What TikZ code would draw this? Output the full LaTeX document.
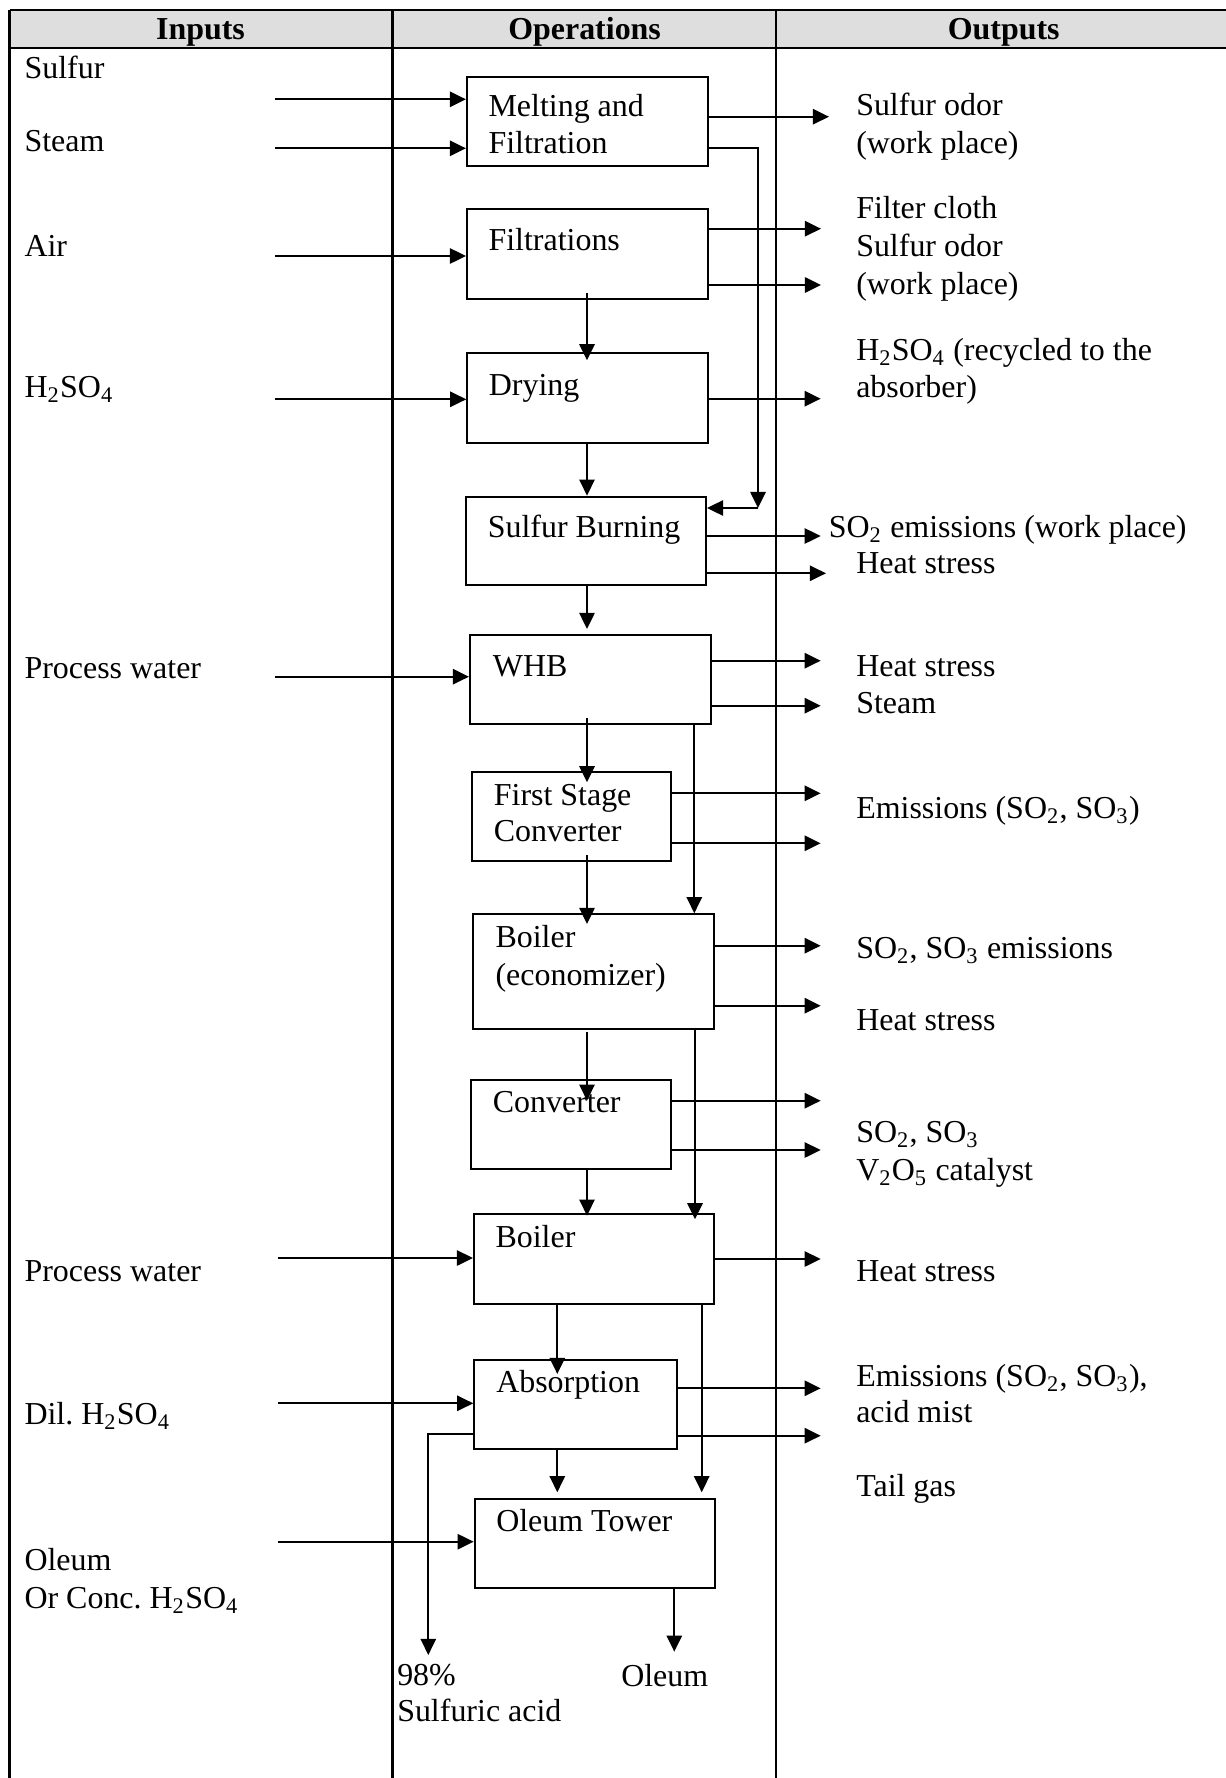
\documentclass[tikz,border=0pt]{standalone}
\usepackage{fontspec}
\setmainfont{Liberation Serif}
\usetikzlibrary{arrows.meta,fit,calc}
\begin{document}
\begin{tikzpicture}[x=0.36pt,y=-0.36pt,
  lw/.style={line width=0.75pt},
  box/.style={draw,line width=0.75pt,inner sep=0pt,fit={#1}},
  arr/.style={line width=0.75pt,-{Triangle[length=5.8pt,width=5.5pt]}},
  txt/.style={anchor=base west,inner sep=0pt,font=\fontsize{11.5}{13.7}\selectfont},
  hdr/.style={anchor=base,inner sep=0pt,font=\fontsize{11.5}{13.7}\selectfont\bfseries},
  rule/.style={line width=0.9pt}]
\useasboundingbox (0,0) rectangle (1226,1778);
% table
\fill[black!13] (9.5,10) rectangle (1226,48);
\draw[rule] (9.5,10) -- (1226,10);
\draw[rule] (9.5,48) -- (1226,48);
\draw[rule] (9.5,9.5) -- (9.5,1778);
\draw[rule] (392.5,9.5) -- (392.5,1778);
\draw[rule] (776,9.5) -- (776,1778);
\node[hdr] (h1) at (200.5,39.5) {Inputs};
\node[hdr] (h2) at (584.6,39.5) {Operations};
\node[hdr] (h3) at (1003.7,39.5) {Outputs};
% boxes
\node[box={(467,77)(708,166)}] (melt) {};
\node[box={(467,209.3)(708,299)}] (filt) {};
\node[box={(467.3,353.3)(707.7,442.7)}] (dry) {};
\node[box={(466,496.7)(706,585.3)}] (burn) {};
\node[box={(470,635)(711,724.3)}] (whb) {};
\node[box={(471.7,772.3)(671,861)}] (first) {};
\node[box={(473.3,914.3)(714,1029.3)}] (boila) {};
\node[box={(471,1080)(671,1169)}] (conv) {};
\node[box={(474,1214.3)(714,1304)}] (boilb) {};
\node[box={(474.3,1360)(677.3,1448.7)}] (absb) {};
\node[box={(474.7,1498.7)(715,1587.7)}] (oleum) {};
% box labels
\node[txt] (l1) at (488,116.7) {Melting and};
\node[txt] (l2) at (488,153.3) {Filtration};
\node[txt] (l3) at (488,250) {Filtrations};
\node[txt] (l4) at (488.3,395) {Drying};
\node[txt] (l5) at (487.3,537.3) {Sulfur Burning};
\node[txt] (l6) at (492.3,676) {WHB};
\node[txt] (l7) at (493.3,805) {First Stage};
\node[txt] (l8) at (493.3,841.7) {Converter};
\node[txt] (l9) at (495,947.3) {Boiler};
\node[txt] (l10) at (495,985) {(economizer)};
\node[txt] (l11) at (492.3,1112.3) {Converter};
\node[txt] (l12) at (495,1247.3) {Boiler};
\node[txt] (l13) at (495.7,1392.7) {Absorption};
\node[txt] (l14) at (495.7,1531.7) {Oleum Tower};
% inputs text
\node[txt] (i1) at (24,78) {Sulfur};
\node[txt] (i2) at (24,151.5) {Steam};
\node[txt] (i3) at (24,256) {Air};
\node[txt] (i4) at (24,397) {H\textsubscript{2}SO\textsubscript{4}};
\node[txt] (i5) at (24,678) {Process water};
\node[txt] (i6) at (24,1281.7) {Process water};
\node[txt] (i7) at (24,1424) {Dil.\ H\textsubscript{2}SO\textsubscript{4}};
\node[txt] (i8) at (24,1570.7) {Oleum};
\node[txt] (i9) at (24,1608.3) {Or Conc.\ H\textsubscript{2}SO\textsubscript{4}};
% outputs text
\node[txt] (t1) at (855.7,115) {Sulfur odor};
\node[txt] (t2) at (855.7,153) {(work place)};
\node[txt] (t3) at (855.7,218.3) {Filter cloth};
\node[txt] (t4) at (855.7,256.5) {Sulfur odor};
\node[txt] (t5) at (855.7,294) {(work place)};
\node[txt] (t6) at (855.7,360.7) {H\textsubscript{2}SO\textsubscript{4} (recycled to the};
\node[txt] (t7) at (855.7,397.5) {absorber)};
\node[txt] (t8) at (828.3,537.3) {SO\textsubscript{2} emissions (work place)};
\node[txt] (t9) at (855.7,573.3) {Heat stress};
\node[txt] (t10) at (855.7,676.7) {Heat stress};
\node[txt] (t11) at (855.7,713.3) {Steam};
\node[txt] (t12) at (855.7,818) {Emissions (SO\textsubscript{2}, SO\textsubscript{3})};
\node[txt] (t13) at (855.7,958.3) {SO\textsubscript{2}, SO\textsubscript{3} emissions};
\node[txt] (t14) at (855.7,1030.7) {Heat stress};
\node[txt] (t15) at (855.7,1142.7) {SO\textsubscript{2}, SO\textsubscript{3}};
\node[txt] (t16) at (855.7,1180) {V\textsubscript{2}O\textsubscript{5} catalyst};
\node[txt] (t17) at (855.7,1281.7) {Heat stress};
\node[txt] (t18) at (855.7,1386) {Emissions (SO\textsubscript{2}, SO\textsubscript{3}),};
\node[txt] (t19) at (855.7,1422.7) {acid mist};
\node[txt] (t20) at (855.7,1496) {Tail gas};
\node[txt] (t21) at (396.7,1685) {98\%};
\node[txt] (t22) at (396.7,1721.7) {Sulfuric acid};
\node[txt] (t23) at (620.7,1686.7) {Oleum};
% input arrows
\coordinate (in1) at (275,99.3);
\coordinate (in2) at (275,148.3);
\coordinate (in3) at (275,256);
\coordinate (in4) at (275,399.3);
\coordinate (in5) at (275,676.7);
\coordinate (in6) at (277.7,1258);
\coordinate (in7) at (278,1403.3);
\coordinate (in8) at (278,1541.7);
\draw[arr] (in1) -- (in1 -| melt.west);
\draw[arr] (in2) -- (in2 -| melt.west);
\draw[arr] (in3) -- (in3 -| filt.west);
\draw[arr] (in4) -- (in4 -| dry.west);
\draw[arr] (in5) -- (in5 -| whb.west);
\draw[arr] (in6) -- (in6 -| boilb.west);
\draw[arr] (in7) -- (in7 -| absb.west);
\draw[arr] (in8) -- (in8 -| oleum.west);
% output arrows
\coordinate (o1) at (829,116.7);
\coordinate (o2) at (821,228.7);
\coordinate (o3) at (821,285);
\coordinate (o4) at (820.7,398.7);
\coordinate (o5) at (820.7,536);
\coordinate (o6) at (826,573.3);
\coordinate (o7) at (820.7,660.7);
\coordinate (o8) at (820.7,705.7);
\coordinate (o9) at (820.7,793.3);
\coordinate (o10) at (820.7,843.3);
\coordinate (o11) at (820.7,945.7);
\coordinate (o12) at (820.7,1005.7);
\coordinate (o13) at (820.7,1100.7);
\coordinate (o14) at (820.7,1150);
\coordinate (o15) at (820.7,1259);
\coordinate (o16) at (820.7,1388.3);
\coordinate (o17) at (820.7,1435.7);
\draw[arr] (o1 -| melt.east) -- (o1);
\draw[arr] (o2 -| filt.east) -- (o2);
\draw[arr] (o3 -| filt.east) -- (o3);
\draw[arr] (o4 -| dry.east) -- (o4);
\draw[arr] (o5 -| burn.east) -- (o5);
\draw[arr] (o6 -| burn.east) -- (o6);
\draw[arr] (o7 -| whb.east) -- (o7);
\draw[arr] (o8 -| whb.east) -- (o8);
\draw[arr] (o9 -| first.east) -- (o9);
\draw[arr] (o10 -| first.east) -- (o10);
\draw[arr] (o11 -| boila.east) -- (o11);
\draw[arr] (o12 -| boila.east) -- (o12);
\draw[arr] (o13 -| conv.east) -- (o13);
\draw[arr] (o14 -| conv.east) -- (o14);
\draw[arr] (o15 -| boilb.east) -- (o15);
\draw[arr] (o16 -| absb.east) -- (o16);
\draw[arr] (o17 -| absb.east) -- (o17);
% main flow
\coordinate (cx) at (587,0);
\coordinate (cy) at (557.3,0);
\draw[arr] ($(cx |- filt.south)+(0,-7)$) -- ($(cx |- dry.north)+(0,8)$);
\draw[arr] (cx |- dry.south) -- (cx |- burn.north);
\draw[arr] ($(cx |- burn.south)+(0,-2)$) -- ($(cx |- whb.north)+(0,-5)$);
\draw[arr] ($(cx |- whb.south)+(0,-7.5)$) -- ($(cx |- first.north)+(0,11)$);
\draw[arr] ($(cx |- first.south)+(0,-7)$) -- ($(cx |- boila.north)+(0,10.7)$);
\draw[arr] ($(cx |- boila.south)+(0,2)$) -- ($(cx |- conv.north)+(0,21.7)$);
\draw[arr] (cx |- conv.south) -- ($(cx |- boilb.north)+(0,2.4)$);
\draw[arr] (cy |- boilb.south) -- ($(cy |- absb.north)+(0,15)$);
\draw[arr] (cy |- absb.south) -- ($(cy |- oleum.north)+(0,-5.4)$);
\coordinate (olout) at (674.3,1651.7);
\draw[arr] (olout |- oleum.south) -- (olout);
% recycle from melting to burning
\coordinate (r1) at (758,148.3);
\coordinate (rc) at (758,508);
\draw[arr] (r1 -| melt.east) -- (r1) -- (rc);
\draw[arr] (rc) -- (rc -| burn.east);
% bypass lines
\coordinate (b1) at (694.3,0);
\coordinate (b2) at (695,0);
\coordinate (b3) at (701.7,0);
\draw[arr] (b1 |- whb.south) -- (b1 |- boila.north);
\draw[arr] (b2 |- boila.south) -- ($(b2 |- boilb.north)+(0,6)$);
\draw[arr] (b3 |- boilb.south) -- ($(b3 |- oleum.north)+(0,-5.4)$);
% 98% acid
\coordinate (ac) at (428.3,1434);
\coordinate (acend) at (428.3,1655);
\draw[arr] (ac -| absb.west) -- (ac) -- (acend);
\end{tikzpicture}
\end{document}
